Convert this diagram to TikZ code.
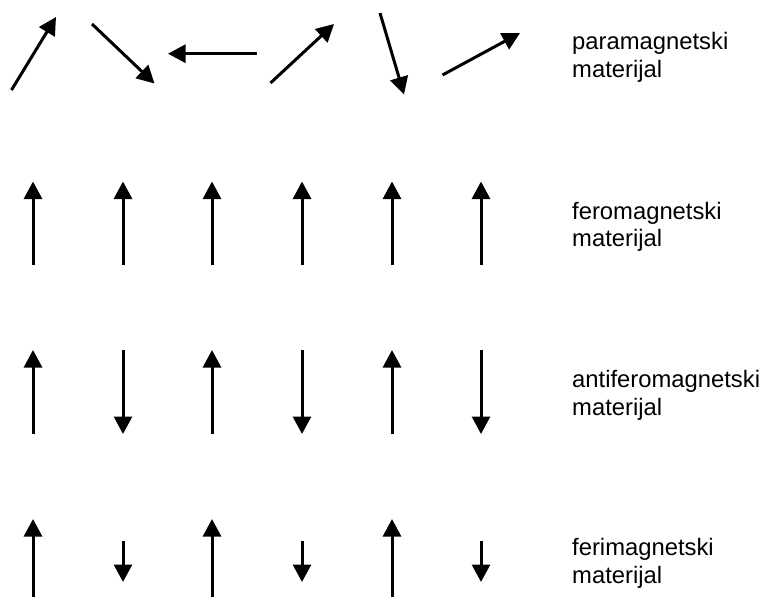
\documentclass[tikz,border=0pt]{standalone}
\usepackage{fontspec}
\setmainfont{Liberation Sans}
\usetikzlibrary{arrows.meta}
\tikzset{
  spin/.style={line width=3pt, -{Triangle[length=17.5pt,width=18pt]}},
  lbl/.style={anchor=base west, inner sep=0pt, align=left, font=\fontsize{23.8}{27.5}\selectfont}
}
\begin{document}
\begin{tikzpicture}[x=1pt,y=-1pt]
\useasboundingbox (0,0) rectangle (765,597);
% paramagnetic row
\coordinate (a1s) at (11.5,90);  \coordinate (a1e) at (56,17);
\coordinate (a2s) at (92,24);    \coordinate (a2e) at (154.5,83.5);
\coordinate (a3s) at (257,53.7); \coordinate (a3e) at (168,53.7);
\coordinate (a4s) at (270.5,83); \coordinate (a4e) at (334,24);
\coordinate (a5s) at (380,13);   \coordinate (a5e) at (404,94.5);
\coordinate (a6s) at (442.5,75); \coordinate (a6e) at (520,33);
\foreach \i in {1,...,6} { \draw[spin] (a\i s) -- (a\i e); }
% ferromagnetic row
\foreach \x [count=\i] in {33,123,212,302,392,481} {
  \coordinate (b\i s) at (\x,265);
  \coordinate (b\i e) at (\x,181.5);
  \draw[spin] (b\i s) -- (b\i e);
}
% antiferromagnetic row
\foreach \x [count=\i] in {33,123,212,302,392,481} {
  \ifodd\i
    \coordinate (c\i s) at (\x,434); \coordinate (c\i e) at (\x,350);
  \else
    \coordinate (c\i s) at (\x,350); \coordinate (c\i e) at (\x,434);
  \fi
  \draw[spin] (c\i s) -- (c\i e);
}
% ferrimagnetic row
\foreach \x [count=\i] in {33,123,212,302,392,481} {
  \ifodd\i
    \coordinate (d\i s) at (\x,597); \coordinate (d\i e) at (\x,519);
  \else
    \coordinate (d\i s) at (\x,540.5); \coordinate (d\i e) at (\x,582);
  \fi
  \draw[spin] (d\i s) -- (d\i e);
}
% labels (base anchor is the baseline of the last line)
\node[lbl] (l1) at (572,77.3) {paramagnetski\\materijal};
\node[lbl] (l2) at (572,246.7) {feromagnetski\\materijal};
\node[lbl] (l3) at (572,415) {antiferomagnetski\\materijal};
\node[lbl] (l4) at (572,583.3) {ferimagnetski\\materijal};
\end{tikzpicture}
\end{document}
